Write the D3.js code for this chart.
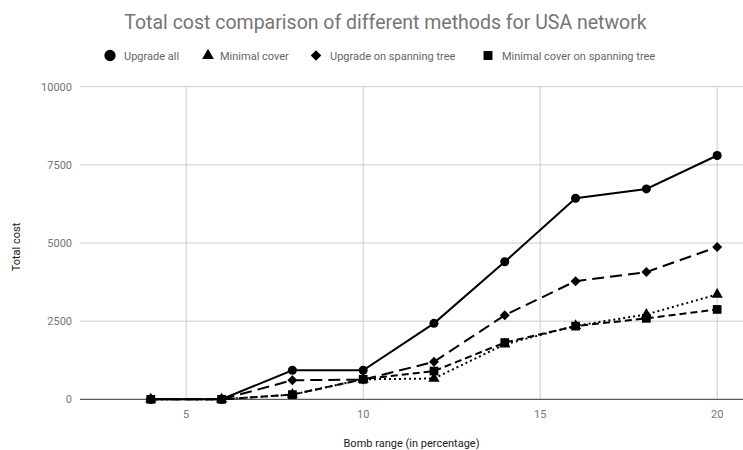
<!DOCTYPE html>
<html><head><meta charset="utf-8">
<script src="https://cdnjs.cloudflare.com/ajax/libs/d3/7.8.5/d3.min.js"></script>
<style>body{margin:0;background:#fff}svg{display:block;font-family:Roboto,sans-serif}</style>
</head><body><svg id="c" width="743" height="450"></svg>
<script>
const xValues = [4, 6, 8, 10, 12, 14, 16, 18, 20];
const upgradeAll = [0, 0, 930, 930, 2430, 4400, 6430, 6730, 7800];
const minimalCover = [0, 0, 150, 640, 665, 1760, 2350, 2715, 3355];
const upgradeSpanning = [0, 0, 610, 630, 1200, 2690, 3780, 4070, 4870];
const minimalSpanning = [0, 0, 150, 640, 905, 1815, 2340, 2590, 2875];
const xTicks = [5, 10, 15, 20];
const yTicks = [0, 2500, 5000, 7500, 10000];
const seriesNames = ["Upgrade all", "Minimal cover", "Upgrade on spanning tree", "Minimal cover on spanning tree"];

const svg = d3.select("#c");
const pLeft = 80, pRight = 743, pTop = 86.7, pBottom = 399.3;
const x = d3.scaleLinear().domain([2, 20.73]).range([pLeft, pRight]);
const y = d3.scaleLinear().domain([0, 10000]).range([pBottom, pTop]);

// title
svg.append("text").attr("x", 385.5).attr("y", 29).attr("text-anchor", "middle")
  .attr("font-size", 19.5).attr("fill", "#757575").text("Total cost comparison of different methods for USA network");

// gridlines
svg.append("g").selectAll("line").data(yTicks.filter(d => d > 0)).join("line")
  .attr("x1", pLeft).attr("x2", pRight).attr("y1", d => y(d)).attr("y2", d => y(d))
  .attr("stroke", "#cccccc").attr("stroke-width", 1);
svg.append("g").selectAll("line").data(xTicks).join("line")
  .attr("x1", d => x(d)).attr("x2", d => x(d)).attr("y1", pTop).attr("y2", pBottom)
  .attr("stroke", "#cccccc").attr("stroke-width", 1);
svg.append("line").attr("x1", pLeft).attr("x2", pRight).attr("y1", y(0)).attr("y2", y(0))
  .attr("stroke", "#333").attr("stroke-width", 1);

// tick labels
svg.append("g").selectAll("text").data(yTicks).join("text")
  .attr("x", 72).attr("y", d => y(d) + 4).attr("text-anchor", "end")
  .attr("font-size", 11).attr("fill", "#757575").text(d => d);
svg.append("g").selectAll("text").data(xTicks).join("text")
  .attr("x", d => x(d)).attr("y", 418).attr("text-anchor", "middle")
  .attr("font-size", 11).attr("fill", "#757575").text(d => d);

// axis titles
svg.append("text").attr("x", (pLeft + pRight) / 2).attr("y", 447).attr("text-anchor", "middle")
  .attr("font-size", 11).attr("fill", "#222").text("Bomb range (in percentage)");
svg.append("text").attr("transform", "translate(20,247) rotate(-90)").attr("text-anchor", "middle")
  .attr("font-size", 11).attr("fill", "#222").text("Total cost");

const series = [
  {name: seriesNames[0], vals: upgradeAll, dash: null, sym: d3.symbolCircle, size: 64, rot: 0, lsize: 100},
  {name: seriesNames[1], vals: minimalCover, dash: "2,3", sym: d3.symbolTriangle, size: 55, rot: 0, lsize: 60},
  {name: seriesNames[2], vals: upgradeSpanning, dash: "12,6", sym: d3.symbolSquare, size: 50, rot: 45, lsize: 55},
  {name: seriesNames[3], vals: minimalSpanning, dash: "7,4", sym: d3.symbolSquare, size: 76, rot: 0, lsize: 80},
];
const line = d3.line().x((d, i) => x(xValues[i])).y(d => y(d));
series.slice().reverse().forEach(s => {
  svg.append("path").datum(s.vals).attr("d", line).attr("fill", "none")
    .attr("stroke", "#000").attr("stroke-width", 2)
    .attr("stroke-dasharray", s.dash);
});
series.slice().reverse().forEach(s => {
  svg.append("g").selectAll("path").data(s.vals).join("path")
    .attr("d", d3.symbol().type(s.sym).size(s.size))
    .attr("transform", (d, i) => `translate(${x(xValues[i])},${y(d)}) rotate(${s.rot})`)
    .attr("fill", "#000");
});

// legend
const legMarkX = [110, 208, 316, 488];
const legTextX = [124, 220, 330, 502];
const lg = svg.append("g");
series.forEach((s, i) => {
  lg.append("path").attr("d", d3.symbol().type(s.sym).size(s.lsize))
    .attr("transform", `translate(${legMarkX[i]},${55.5}) rotate(${s.rot})`).attr("fill", "#000");
  lg.append("text").attr("x", legTextX[i]).attr("y", 59.5).attr("font-size", 11)
    .attr("fill", "#666").text(s.name);
});
</script></body></html>
